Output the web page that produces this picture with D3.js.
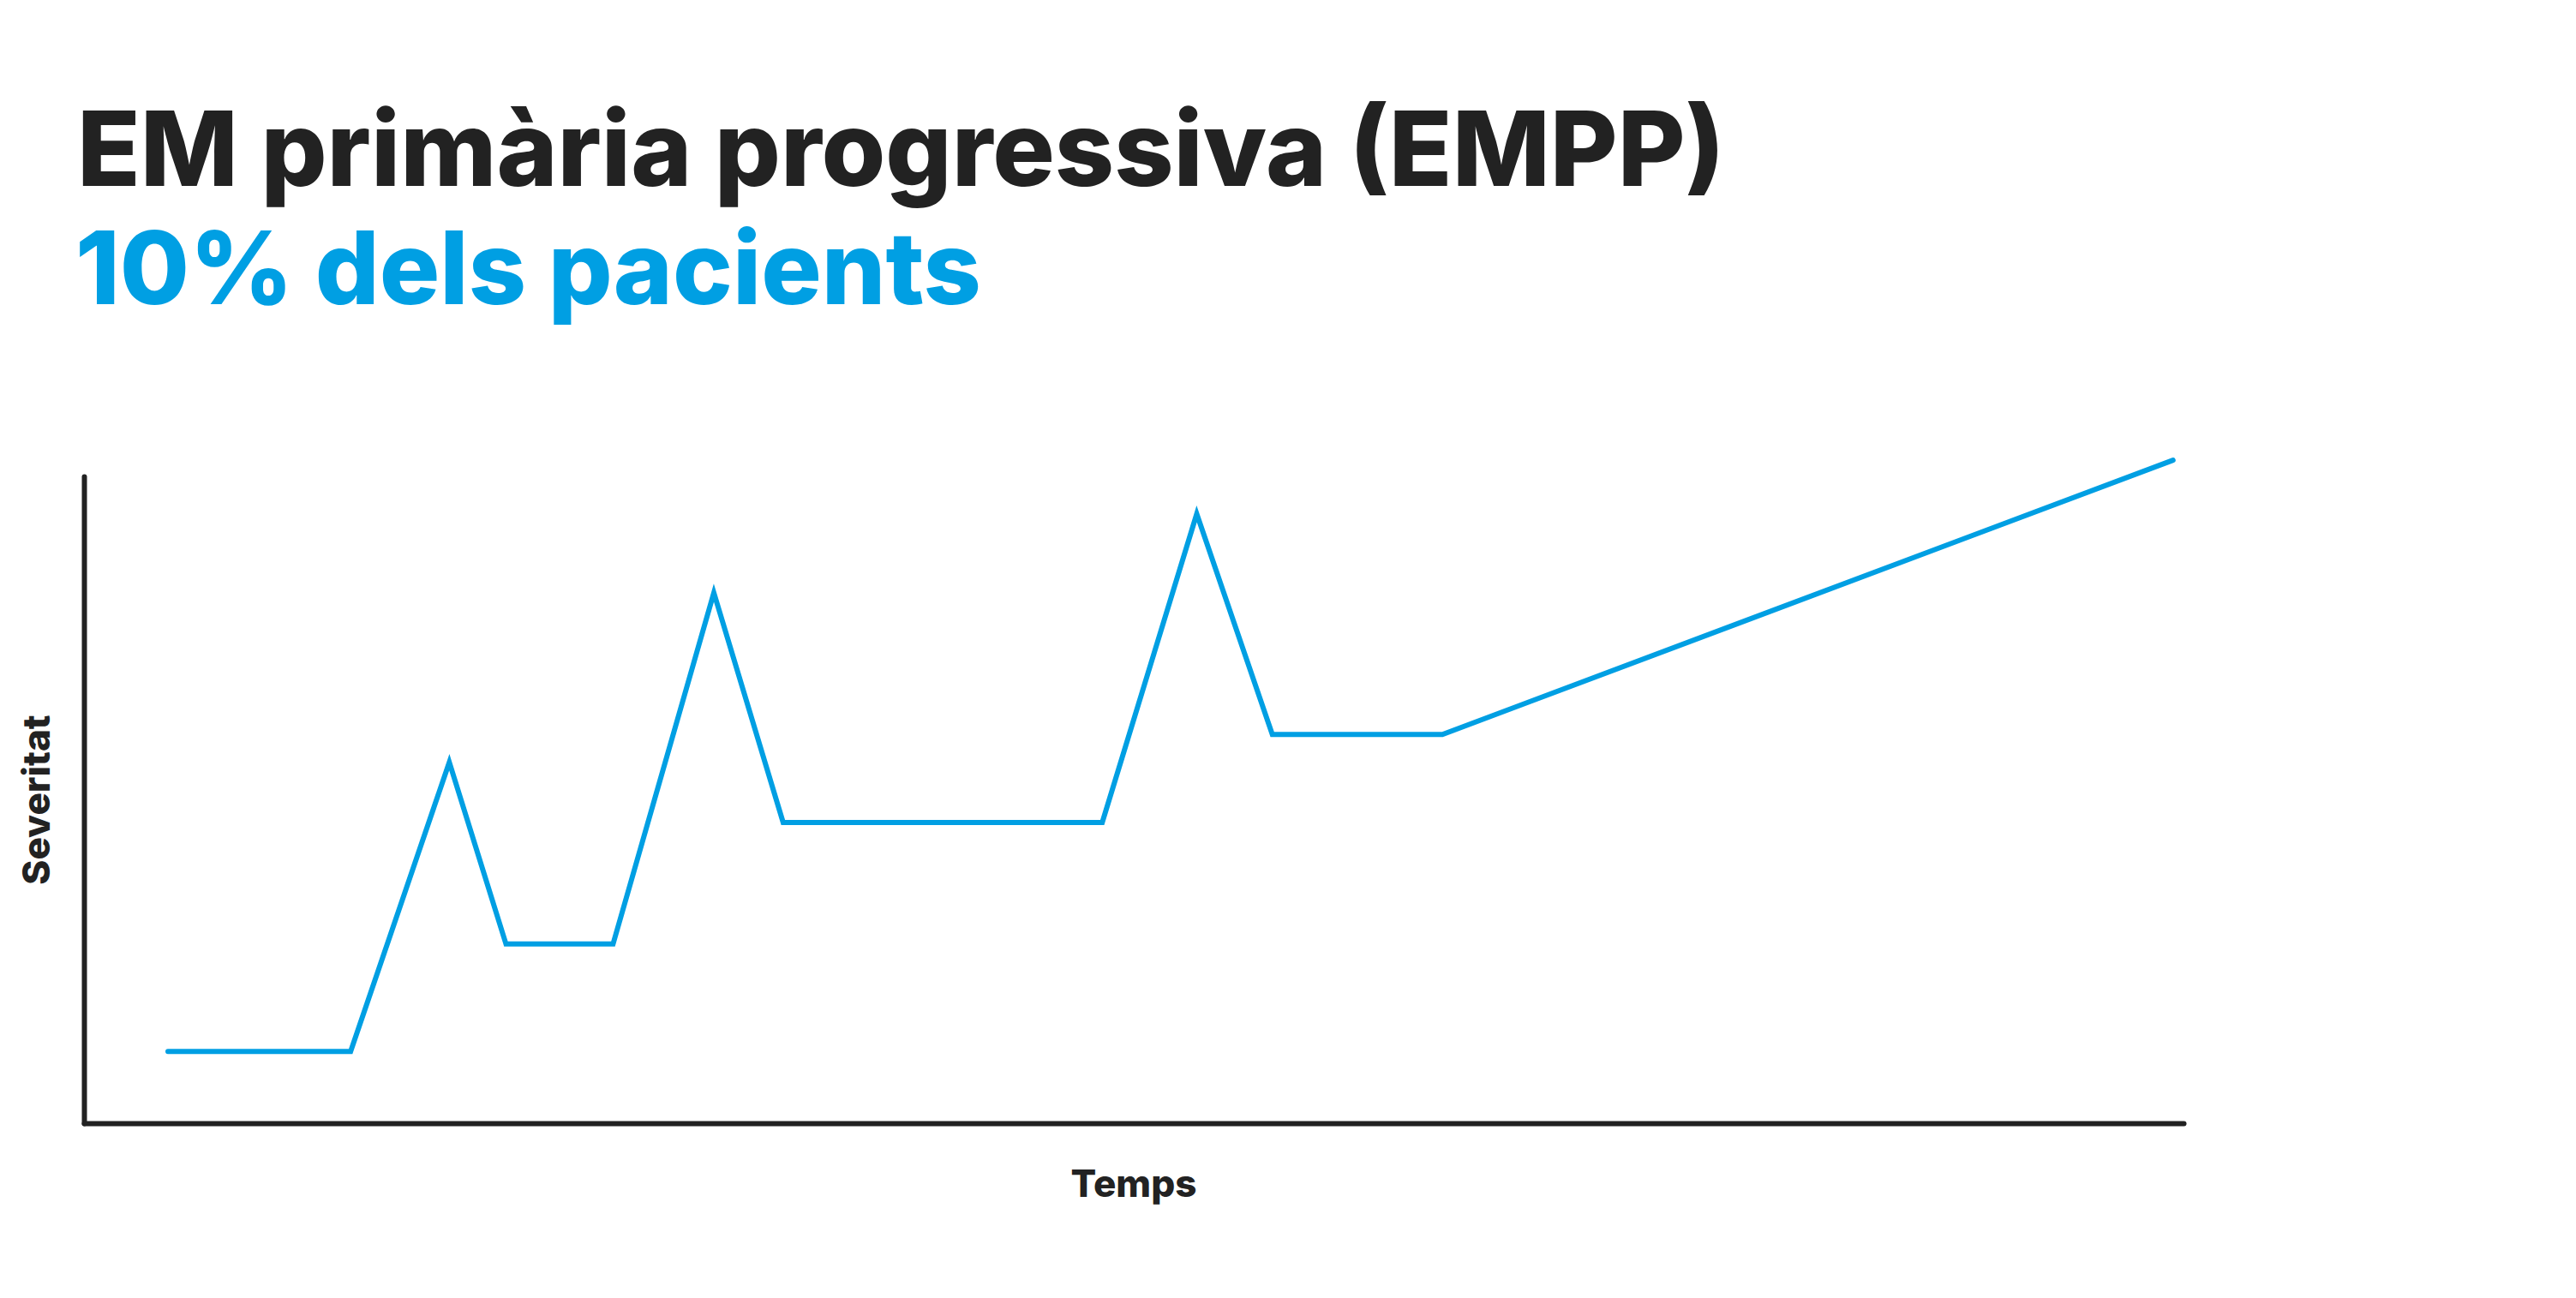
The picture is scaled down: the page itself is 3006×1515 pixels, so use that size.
<!DOCTYPE html>
<html>
<head>
<meta charset="utf-8">
<script src="https://cdn.jsdelivr.net/npm/d3@7"></script>
<style>
  html, body { margin: 0; padding: 0; background: #fff; }
  svg { display: block; }
</style>
</head>
<body>
<script>
// ---- Data ----
const titleText = "EM primària progressiva (EMPP)";
const subtitleText = "10% dels pacients";
const xLabel = "Temps";
const yLabel = "Severitat";
// time (0-100) and severity (0-100)
const timeValues = [4.0, 12.7, 17.4, 20.1, 25.2, 30.0, 33.3, 48.5, 53.0, 56.6, 64.7, 99.5];
const severityValues = [11.1, 11.1, 55.8, 27.7, 27.7, 82.0, 46.5, 46.5, 94.2, 60.1, 60.1, 102.5];

// ---- Layout ----
const W = 3006, H = 1515;
const margin = { left: 98, right: W - 2548, top: 556, bottom: H - 1311 };
const dark = "#222222", blue = "#009fe3";
const font = "Inter, 'Noto Sans', sans-serif";

const svg = d3.select("body").append("svg").attr("width", W).attr("height", H);

const x = d3.scaleLinear().domain([0, 100]).range([margin.left, W - margin.right]);
const y = d3.scaleLinear().domain([0, 100]).range([H - margin.bottom, margin.top]);

// Title & subtitle, fitted to the reference widths
function fitText(sel, targetWidth) {
  const w = sel.node().getComputedTextLength();
  const fs = parseFloat(sel.attr("font-size"));
  sel.attr("font-size", fs * targetWidth / w);
}
const title = svg.append("text")
  .attr("x", 90).attr("y", 217)
  .attr("font-family", font).attr("font-weight", 800)
  .attr("font-size", 120).attr("fill", dark)
  .text(titleText);
fitText(title, 1923);

const sub = svg.append("text")
  .attr("x", 88).attr("y", 355)
  .attr("font-family", font).attr("font-weight", 800)
  .attr("font-size", 120).attr("fill", blue)
  .text(subtitleText);
fitText(sub, 1057);

// Axes (plain lines, no ticks)
const xAxis = d3.axisBottom(x).tickValues([]).tickSizeOuter(0);
const yAxis = d3.axisLeft(y).tickValues([]).tickSizeOuter(0);
const gx = svg.append("g").attr("transform", `translate(0,${H - margin.bottom})`).call(xAxis);
const gy = svg.append("g").attr("transform", `translate(${margin.left},0)`).call(yAxis);
[gx, gy].forEach(g => g.select(".domain")
  .attr("stroke", dark).attr("stroke-width", 6).attr("stroke-linecap", "round"));

// Axis labels
svg.append("text")
  .attr("x", x(50)).attr("y", 1397)
  .attr("text-anchor", "middle")
  .attr("font-family", font).attr("font-weight", 800)
  .attr("font-size", 44).attr("fill", dark)
  .text(xLabel);

svg.append("text")
  .attr("transform", `translate(58,${y(50)}) rotate(-90)`)
  .attr("text-anchor", "middle")
  .attr("font-family", font).attr("font-weight", 800)
  .attr("font-size", 44).attr("fill", dark)
  .text(yLabel);

// Line
const data = timeValues.map((t, i) => ({ t, s: severityValues[i] }));
const line = d3.line().x(d => x(d.t)).y(d => y(d.s));
svg.append("path")
  .datum(data)
  .attr("d", line)
  .attr("fill", "none")
  .attr("stroke", blue)
  .attr("stroke-width", 6)
  .attr("stroke-linejoin", "miter")
  .attr("stroke-linecap", "round");
</script>
</body>
</html>
